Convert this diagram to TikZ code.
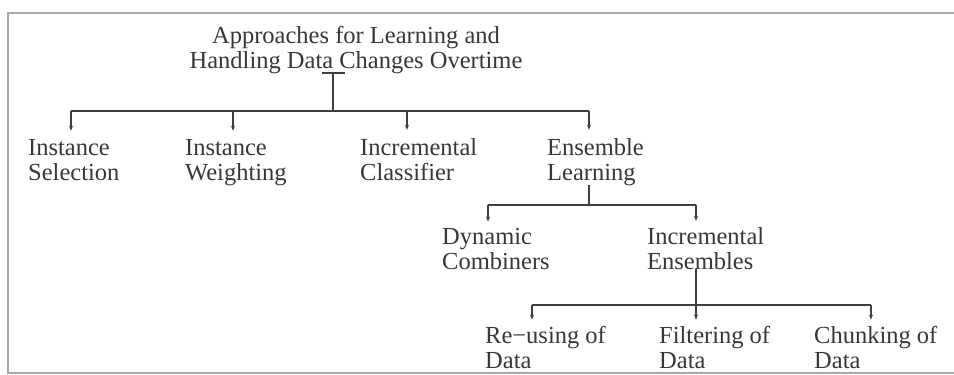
\documentclass[tikz,border=0pt]{standalone}
\usepackage{fontspec}
\setmainfont{Liberation Serif}
\usetikzlibrary{arrows.meta,calc}
\definecolor{txt}{HTML}{383838}
\definecolor{ln}{HTML}{404040}
\definecolor{frm}{HTML}{A8A8A8}
\begin{document}
\begin{tikzpicture}[x=1pt,y=-1pt,
  lbl/.style={anchor=base west, inner sep=0pt, align=left, text=txt,
    font=\fontsize{24.5}{25}\selectfont},
  conn/.style={draw=ln, line width=1.2pt},
  arr/.style={conn, -{Stealth[length=5pt,width=4pt]}},
  frame/.style={draw=frm, line width=1.6pt}]
\useasboundingbox (0,0) rectangle (954,375);
\fill[white] (0,0) rectangle (954,375);
\draw[frame] (954,13) -- (8,13) -- (8,373) -- (954,373);

% title (anchor = baseline of last line)
\node[lbl, anchor=base, align=center] (title) at (356,68)
  {Approaches for Learning and\\Handling Data Changes Overtime};

% level 1
\node[lbl] (is) at (28,180) {Instance\\Selection};
\node[lbl] (iw) at (185,180) {Instance\\Weighting};
\node[lbl] (ic) at (360,180) {Incremental\\Classifier};
\node[lbl] (el) at (547,180) {Ensemble\\Learning};

% level 2
\node[lbl] (dc) at (442,269) {Dynamic\\Combiners};
\node[lbl] (ie) at (647,269) {Incremental\\Ensembles};

% level 3
\node[lbl] (ru) at (485,368) {Re−using of\\Data};
\node[lbl] (fd) at (659,368) {Filtering of\\Data};
\node[lbl] (cd) at (814,368) {Chunking of\\Data};

% title connector
\coordinate (tb) at (333,73);
\coordinate (tbl) at (322,73);
\coordinate (tbr) at (345,73);
\coordinate (j1) at (333,111);
\coordinate (d1) at (71,111);
\coordinate (d2) at (233,111);
\coordinate (d3) at (407,111);
\coordinate (d4) at (589,111);
\draw[conn] (tbl) -- (tbr);
\draw[conn] (tb) -- (j1);
\draw[conn] (d1) -- (d4);
\draw[arr, shorten >=8pt] (d1) -- (d1 |- is.north);
\draw[arr, shorten >=8pt] (d2) -- (d2 |- iw.north);
\draw[arr, shorten >=8pt] (d3) -- (d3 |- ic.north);
\draw[arr, shorten >=8pt] (d4) -- (d4 |- el.north);

% level 2 connector
\coordinate (j2) at (589,205);
\coordinate (e1) at (488,205);
\coordinate (e2) at (696,205);
\draw[conn] (el.south -| j2) -- (j2);
\draw[conn] (e1) -- (e2);
\draw[arr, shorten >=6pt] (e1) -- (e1 |- dc.north);
\draw[arr, shorten >=6pt] (e2) -- (e2 |- ie.north);

% level 3 connector
\coordinate (j3) at (696,305);
\coordinate (f1) at (532,305);
\coordinate (f3) at (871,305);
\draw[conn] (ie.south -| j3) -- (j3);
\draw[conn] (f1) -- (f3);
\draw[arr, shorten >=6pt] (f1) -- (f1 |- ru.north);
\draw[arr, shorten >=6pt] (j3) -- (j3 |- fd.north);
\draw[arr, shorten >=6pt] (f3) -- (f3 |- cd.north);
\end{tikzpicture}
\end{document}
